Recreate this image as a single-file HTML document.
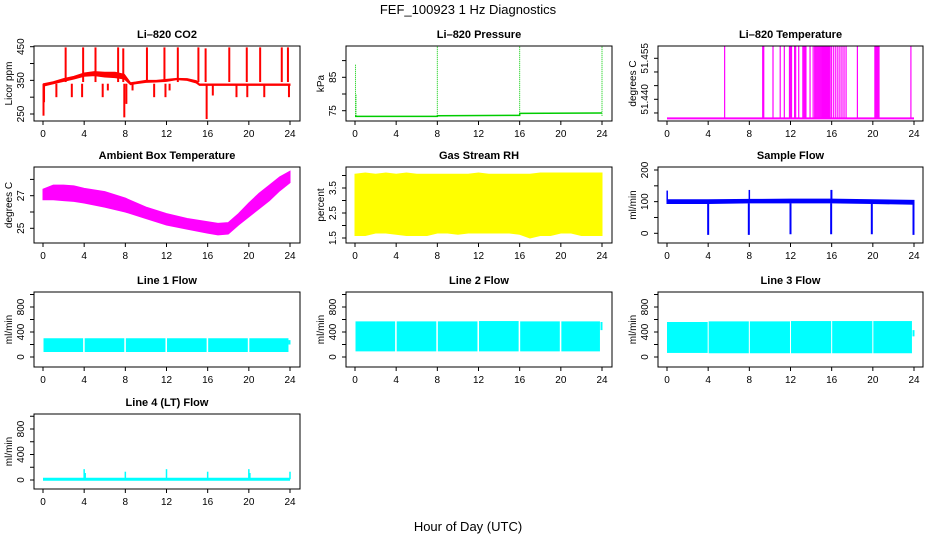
<!DOCTYPE html>
<html><head><meta charset="utf-8">
<style>
html,body{margin:0;padding:0;background:#fff;}
svg{display:block;font-family:"Liberation Sans",sans-serif;}
</style></head>
<body>
<svg id="chart" width="936" height="540" viewBox="0 0 936 540" xmlns="http://www.w3.org/2000/svg">
<rect x="0" y="0" width="936" height="540" fill="#fff"/>
<text x="468" y="14" text-anchor="middle" font-size="13">FEF_100923  1 Hz Diagnostics</text>
<text x="468" y="531" text-anchor="middle" font-size="13">Hour of Day (UTC)</text>
</svg>
<script>
// ---- data arrays ----
const xTicks = [0, 4, 8, 12, 16, 20, 24];

const co2Hours = [0.05,1,2,3,4,5,6,7,7.9,8.5,9,10,11,12,13,14,14.9,15.2,16,18,20,22,24];
const co2Lo    = [333,340,347,354,362,364,360,358,354,337,340,344,345,347,352,350,342,335,335,335,335,335,335];
const co2Hi    = [340,346,355,362,372,376,374,374,368,343,345,350,350,353,356,355,349,339,339,339,339,339,339];
const co2SpikeHours = [0.05,0.1,1.3,2.2,2.8,3.8,3.9,5.1,5.8,6.3,7.3,7.8,7.9,8.1,8.7,10.1,10.8,11.8,11.9,12.3,13.1,15.1,15.8,15.9,16.5,18.1,18.8,19.8,19.85,21.1,21.5,23.2,23.8,23.9];
const co2SpikeVals  = [245,285,300,448,300,300,448,448,300,320,448,445,240,280,320,448,300,448,300,320,448,448,445,235,305,448,300,448,300,448,300,448,448,300];

const presHours = [0,8,8.01,15,16,16.01,24];
const presVals  = [73.3,73.3,73.5,73.6,73.6,74.2,74.3];
const presSpikeHours = [0.05,0.1,8.0,16.0,24.0];
const presSpikeVals  = [89,80,95,96,96.5];

const tempBase = 51.433;
const tempSpikeHours = [5.6,9.3,9.35,9.4,10.3,11.0,11.4,11.9,12.0,12.1,12.4,12.5,12.8,13.2,13.3,13.4,13.5,13.9,14.2,14.35,14.45,14.55,14.65,14.75,14.85,14.95,15.05,15.15,15.25,15.35,15.45,15.55,15.65,15.75,15.85,16.0,16.2,16.4,16.6,16.8,17.0,17.2,17.4,18.5,20.2,20.3,20.4,20.5,20.6,23.7];
const tempSpikeTop = 51.4625;

const ambHours = [0,1,2,3,4,6,8,10,12,14,16,17,18,19,20,21,22,23,24];
const ambHi    = [27.4,27.65,27.65,27.6,27.45,27.25,26.85,26.3,25.9,25.6,25.4,25.3,25.35,25.9,26.55,27.15,27.65,28.15,28.5];
const ambLo    = [26.75,26.75,26.7,26.65,26.55,26.3,26.0,25.6,25.2,24.95,24.7,24.6,24.65,25.2,25.7,26.2,26.7,27.3,27.8];

const rhHours = [0,1,2,3,4,5,6,7,8,9,10,11,12,13,14,15,16,17,18,19,20,21,22,23,24];
const rhHi    = [4.05,4.1,4.05,4.1,4.05,4.1,4.05,4.05,4.05,4.05,4.05,4.05,4.1,4.05,4.05,4.05,4.05,4.05,4.1,4.1,4.1,4.1,4.1,4.1,4.1];
const rhLo    = [1.6,1.6,1.7,1.7,1.65,1.6,1.6,1.6,1.7,1.7,1.65,1.7,1.7,1.7,1.7,1.7,1.65,1.5,1.6,1.6,1.7,1.7,1.6,1.6,1.6];

const sfHours = [0,4,8,12,16,20,24];
const sfLo = [94,94,96,96,96,94,92];
const sfHi = [106,106,107,108,108,106,104];
const sfDropHours = [4.0,7.95,12.0,15.95,19.9,23.95];
const sfDropVals  = [-5,-5,-3,-3,-3,-5];
const sfSpikeHours = [0.02,8.0,15.95,16.0];
const sfSpikeVals  = [135,137,137,137];

const l1SegStart = [0.05,4.05,8.05,12.05,16.05,20.05];
const l1SegEnd   = [3.9,7.9,11.9,15.9,19.9,23.85];
const l1Lo = [80,80,80,80,80,80];
const l1Hi = [300,300,300,300,300,300];

const l2SegStart = [0.05,4.05,8.05,12.05,16.05,20.05];
const l2SegEnd   = [3.9,7.9,11.9,15.9,19.9,23.8];
const l2Lo = [90,90,90,90,90,90];
const l2Hi = [570,570,570,575,570,570];

const l3SegStart = [0.0,4.05,8.05,12.05,16.05,20.05];
const l3SegEnd   = [3.95,7.95,11.95,15.95,19.95,23.8];
const l3Lo = [65,60,60,60,60,60];
const l3Hi = [560,570,570,575,575,575];

const l4Base = 12;
const l4SpikeHours = [4.0,4.1,8.0,12.0,16.0,20.0,20.1,24.0];
const l4SpikeVals  = [170,110,130,170,130,170,110,130];

// ---- drawing ----
const NS = "http://www.w3.org/2000/svg";
const svg = document.getElementById("chart");
function mk(tag, attrs, parent) {
  const e = document.createElementNS(NS, tag);
  for (const k in attrs) e.setAttribute(k, attrs[k]);
  (parent || svg).appendChild(e);
  return e;
}
const cols = [{l:34,r:300,x0:43,x24:290},{l:346,r:612,x0:355,x24:602},{l:658,r:923,x0:667,x24:914}];
const rows = [{t:46,b:121},{t:167,b:243},{t:292,b:367},{t:414,b:489}];

function makePanel(name, col, row, title, ylab, v0, p0, v1, p1, ticks, labels) {
  const c = cols[col], r = rows[row];
  const g = mk("g", {});
  
  
  const P = {g:g, c:c, r:r,
    x: h => c.x0 + (c.x24 - c.x0) * h / 24,
    y: v => p0 + (p1 - p0) * (v - v0) / (v1 - v0)};
  const clip = mk("clipPath", {id: "clip-" + name}, g);
  mk("rect", {x:c.l, y:r.t, width:c.r-c.l, height:r.b-r.t}, clip);
  P.dg = mk("g", {"clip-path": "url(#clip-" + name + ")"}, g);
  
  
  const tt = mk("text", {x:(c.l+c.r)/2, y:r.t-8, "text-anchor":"middle", "font-size":"11", "font-weight":"bold"}, g);
  tt.textContent = title;
  
  
  const yl = mk("text", {x:0, y:0, "text-anchor":"middle", "font-size":"10", transform:"translate(" + (c.l-22) + "," + ((r.t+r.b)/2) + ") rotate(-90)"}, g);
  yl.textContent = ylab;
  
  
  const xa = mk("g", {stroke:"#000", "stroke-width":"1"}, g);
  
  
  xTicks.forEach(h => {
    mk("line", {x1:P.x(h), x2:P.x(h), y1:r.b, y2:r.b+4}, xa);
    const t = mk("text", {x:P.x(h), y:r.b+16, "text-anchor":"middle", "font-size":"10", stroke:"none", fill:"#000"}, xa);
    t.textContent = String(h);
  });
  const ya = mk("g", {stroke:"#000", "stroke-width":"1"}, g);
  
  
  ticks.forEach((v, i) => {
    const yy = P.y(v);
    mk("line", {x1:c.l-4, x2:c.l, y1:yy, y2:yy}, ya);
    if (labels[i]) {
      const t = mk("text", {x:0, y:0, "text-anchor":"middle", "font-size":"10", stroke:"none", fill:"#000", transform:"translate(" + (c.l-10) + "," + yy + ") rotate(-90)"}, ya);
      t.textContent = labels[i];
    }
  });
  const box = mk("rect", {x:c.l, y:r.t, width:c.r-c.l, height:r.b-r.t, fill:"none", stroke:"#000", "stroke-width":"1"}, g);
  
  
  return P;
}
function band(P, hrs, lo, hi, color) {
  let pts = hrs.map((h, i) => P.x(h) + "," + P.y(hi[i]));
  for (let i = hrs.length - 1; i >= 0; i--) pts.push(P.x(hrs[i]) + "," + P.y(lo[i]));
  return mk("polygon", {points: pts.join(" "), fill: color, stroke: color, "stroke-width": "1"}, P.dg);
}
function vline(P, h, a, b, color, w) {
  return mk("line", {x1:P.x(h), x2:P.x(h), y1:P.y(a), y2:P.y(b), stroke:color, "stroke-width": w || 1.5}, P.dg);
}
function segs(P, st, en, lo, hi, color) {
  st.forEach((s, i) => {
    const r = mk("rect", {x:P.x(s), y:P.y(hi[i]), width:P.x(en[i]) - P.x(s), height:P.y(lo[i]) - P.y(hi[i]), fill:color}, P.dg);
    
    
  });
}

let P = makePanel("co2-panel", 0, 0, "Li\u2013820 CO2", "Licor ppm", 250, 114, 450, 46.7, [250,300,350,400,450], ["250","","350","","450"]);
band(P, co2Hours, co2Lo, co2Hi, "#ff0000");
co2SpikeHours.forEach((h, i) => {
  const base = co2SpikeVals[i] > 360 ? 345 : 340;
  const l = vline(P, h, base, co2SpikeVals[i], "#ff0000", 2);
  
  
});

P = makePanel("pressure-panel", 1, 0, "Li\u2013820 Pressure", "kPa", 75, 110.7, 85, 77.3, [75,80,85,90], ["75","","85",""]);
const pl = mk("polyline", {points: presHours.map((h, i) => P.x(h) + "," + P.y(presVals[i])).join(" "), fill:"none", stroke:"#00cc00", "stroke-width":"1.5"}, P.dg);


presSpikeHours.forEach((h, i) => {
  const l = vline(P, h, 73.5, presSpikeVals[i], "#00cc00", 1);
  l.setAttribute('stroke-dasharray', '1,1');
  
  
});

P = makePanel("licor-temp-panel", 2, 0, "Li\u2013820 Temperature", "degrees C", 51.440, 99.3, 51.455, 58.3, [51.435,51.440,51.445,51.450,51.455], ["","51.440","","","51.455"]);
const bl = vline(P, 0, tempBase, tempBase, "#ff00ff", 2);
bl.setAttribute('x2', P.x(24));


tempSpikeHours.forEach(h => {
  const l = vline(P, h, tempBase, tempSpikeTop, "#ff00ff", 1.2);
  
  
});

P = makePanel("ambient-temp-panel", 0, 1, "Ambient Box Temperature", "degrees C", 25, 228.3, 27, 195.7, [25,26,27,28], ["25","","27",""]);
band(P, ambHours, ambLo, ambHi, "#ff00ff");

P = makePanel("rh-panel", 1, 1, "Gas Stream RH", "percent", 1.5, 238, 3.5, 188, [1.5,2,2.5,3,3.5,4], ["1.5","","2.5","","3.5",""]);
band(P, rhHours, rhLo, rhHi, "#ffff00");

P = makePanel("sample-flow-panel", 2, 1, "Sample Flow", "ml/min", 0, 233.3, 200, 170, [0,50,100,150,200], ["0","","100","","200"]);
band(P, sfHours, sfLo, sfHi, "#0000ff");
sfDropHours.forEach((h, i) => {
  const l = vline(P, h, 95, sfDropVals[i], "#0000ff", 2);
  
  
});
sfSpikeHours.forEach((h, i) => {
  const l = vline(P, h, 100, sfSpikeVals[i], "#0000ff", 1.5);
  
  
});

const flowTicks = [0,200,400,600,800,1000], flowLabels = ["0","","400","","800",""];
P = makePanel("line1-flow-panel", 0, 2, "Line 1 Flow", "ml/min", 0, 357, 800, 307, flowTicks, flowLabels);
segs(P, l1SegStart, l1SegEnd, l1Lo, l1Hi, "#00ffff");
vline(P, 23.95, 200, 270, "#00ffff", 2);
P = makePanel("line2-flow-panel", 1, 2, "Line 2 Flow", "ml/min", 0, 357, 800, 307, flowTicks, flowLabels);
segs(P, l2SegStart, l2SegEnd, l2Lo, l2Hi, "#00ffff");
vline(P, 23.95, 430, 560, "#00ffff", 2);
P = makePanel("line3-flow-panel", 2, 2, "Line 3 Flow", "ml/min", 0, 357, 800, 307, flowTicks, flowLabels);
segs(P, l3SegStart, l3SegEnd, l3Lo, l3Hi, "#00ffff");
vline(P, 23.95, 330, 430, "#00ffff", 2);

P = makePanel("line4-flow-panel", 0, 3, "Line 4 (LT) Flow", "ml/min", 0, 480, 800, 429, flowTicks, flowLabels);
const l4 = vline(P, 0, l4Base, l4Base, "#00ffff", 3);
l4.setAttribute('x2', P.x(24));


l4SpikeHours.forEach((h, i) => {
  const l = vline(P, h, l4Base, l4SpikeVals[i], "#00ffff", 1.5);
  
  
});
</script>
</body></html>
